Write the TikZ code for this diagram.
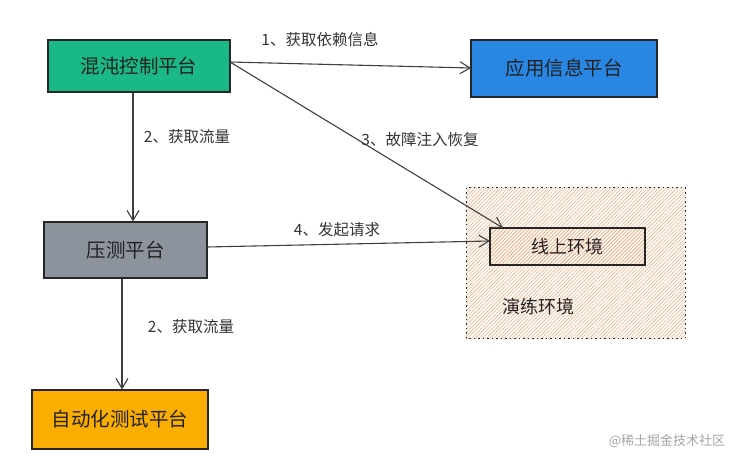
\documentclass[tikz,border=0pt]{standalone}
\usepackage{fontspec}
\setmainfont{Noto Sans CJK SC}
\usetikzlibrary{arrows.meta,patterns.meta}
\definecolor{cgreen}{HTML}{19B886}
\definecolor{cblue}{HTML}{2A86E3}
\definecolor{cgray}{HTML}{8D939D}
\definecolor{corange}{HTML}{FAAE02}
\definecolor{chatch}{HTML}{F3B184}
\definecolor{ctext}{HTML}{222222}
\begin{document}
\begin{tikzpicture}[x=1pt,y=-1pt,
  box/.style={draw=black!85,line width=1.1pt,inner sep=0pt,font=\fontsize{19.5}{21}\selectfont,text=ctext},
  conn/.style={draw=black!75,line width=1.1pt,-{Straight Barb[length=10pt,width=12pt,line width=1.1pt]}},
  lbl/.style={font=\fontsize{15.5}{17}\selectfont,text=black!80}]
\useasboundingbox (0,0) rectangle (753,468);
\fill[white] (0,0) rectangle (753,468);
% practice environment
\path[pattern={Lines[angle=45,distance=2.6pt,line width=0.6pt]},pattern color=chatch] (466,188) rectangle (685,338);
\draw[black!85,line width=1pt,dash pattern=on 1.5pt off 3pt] (466,188) rectangle (685,338);
\node[font=\fontsize{18}{20}\selectfont,text=ctext] (env) at (538,307) {演练环境};
% nodes
\node[box,fill=cgreen,minimum width=182pt,minimum height=52pt] (chaos) at (139,66) {混沌控制平台};
\node[box,fill=cblue,minimum width=186pt,minimum height=57pt] (app) at (564,68.5) {应用信息平台};
\node[box,fill=cgray,minimum width=163pt,minimum height=56pt] (press) at (125.5,250) {压测平台};
\node[box,fill=corange,minimum width=176pt,minimum height=59pt] (auto) at (120,419.5) {自动化测试平台};
\node[box,minimum width=155pt,minimum height=37pt,pattern={Lines[angle=45,distance=2.6pt,line width=0.6pt]},pattern color=chatch,line width=1.2pt,font=\fontsize{18}{20}\selectfont] (online) at (567.5,246.5) {线上环境};
% connectors
\coordinate (c1) at (230,62);
\coordinate (a1) at (471,68);
\draw[conn] (c1) -- (a1);
\node[lbl] (l1) at (320,40) {1、获取依赖信息};
\draw[conn] (chaos.south -| 133,0) -- (press.north -| 133,0);
\node[lbl] (l2) at (187,137) {2、获取流量};
\coordinate (o3) at (503,228);
\draw[conn] (c1) -- (o3);
\node[lbl] (l3) at (420,140) {3、故障注入恢复};
\coordinate (p4) at (207,247);
\coordinate (o4) at (490,241);
\draw[conn] (p4) -- (o4);
\node[lbl] (l4) at (337,230) {4、发起请求};
\draw[conn] (press.south -| 122,0) -- (auto.north -| 122,0);
\node[lbl] (l5) at (191,327) {2、获取流量};
\node[font=\fontsize{13}{15}\selectfont,text=black!35] (wm) at (667,441) {@稀土掘金技术社区};
\end{tikzpicture}
\end{document}
